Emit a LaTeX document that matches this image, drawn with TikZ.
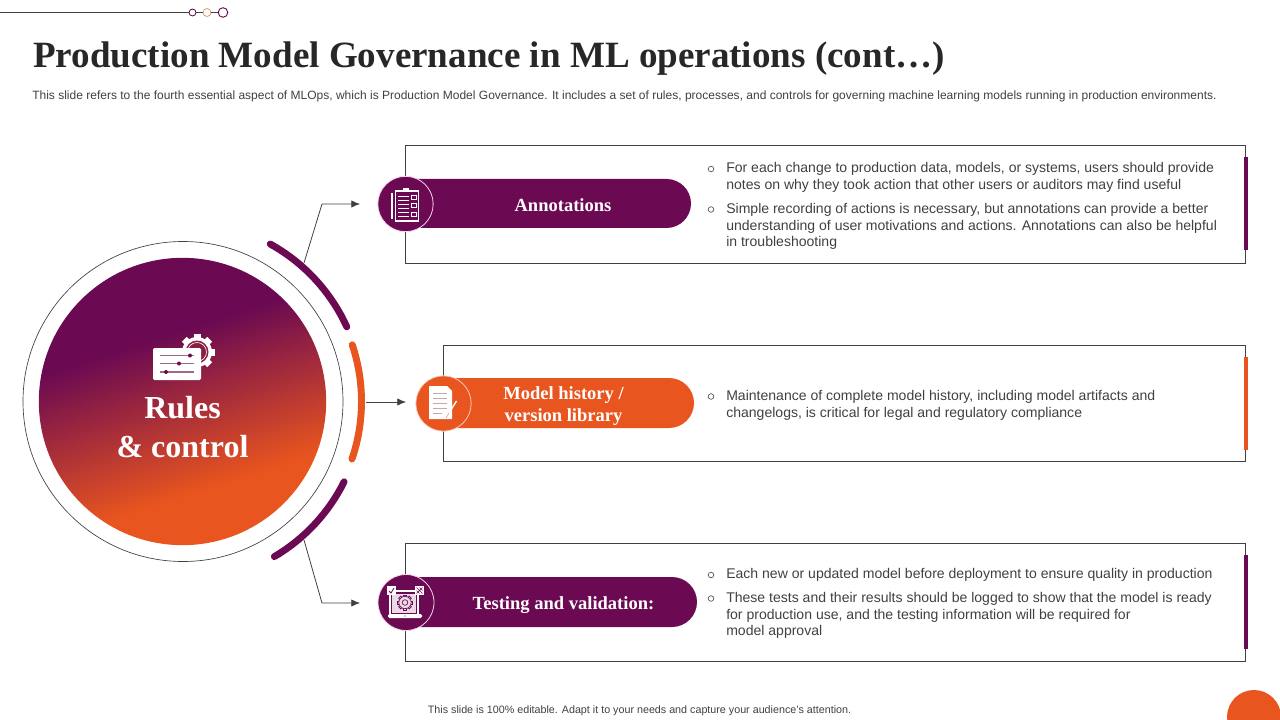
\documentclass[tikz,border=0pt]{standalone}
\usepackage{fontspec}
\setmainfont{Liberation Sans}
\newfontfamily\serifbold{Liberation Serif Bold}
\definecolor{plum}{HTML}{6B0A52}
\definecolor{flame}{HTML}{E9551E}
\definecolor{ink}{HTML}{404040}
\definecolor{ringpink}{HTML}{F3D6EA}
\definecolor{slider}{HTML}{9A6A8C}
\definecolor{docline}{HTML}{C9A9A0}
\pgfdeclareverticalshading{rulesdisc}{100bp}{color(0bp)=(flame); color(34bp)=(flame); color(61.8bp)=(plum); color(100bp)=(plum)}
\usetikzlibrary{arrows.meta}
\tikzset{
  x=0.75pt,y=-0.75pt,
  framebox/.style={draw=ink,line width=0.75pt},
  connector/.style={draw=ink,line width=0.6pt},
  arrowline/.style={connector,-{Latex[length=6.5pt,width=5.5pt]}},
  body/.style={anchor=north west,inner sep=0pt,align=left,text=ink,font=\fontsize{10.53pt}{12.55pt}\selectfont},
  pilltext/.style={text=white,align=center,inner sep=0pt,font=\serifbold\fontsize{13.9pt}{16.6pt}\selectfont},
  bulletdot/.style={circle,draw=ink,line width=0.45pt,inner sep=0pt,minimum size=4.2pt},
  arcbar/.style={line width=5.2pt,line cap=round},
  iconline/.style={draw=white,line width=0.7pt},
}
\begin{document}
\begin{tikzpicture}
\useasboundingbox (0,0) rectangle (1280,720);
% top ornament
\node[circle,draw=plum!80!black,line width=0.6pt,inner sep=0pt,minimum size=5.2pt] (o1) at (192.5,12.5) {};
\node[circle,draw=flame!50!brown!70,line width=0.6pt,inner sep=0pt,minimum size=6pt] (o2) at (207,12.5) {};
\node[circle,draw=plum,line width=0.7pt,inner sep=0pt,minimum size=7.2pt] (o3) at (223,12.5) {};
\coordinate (ostart) at (0,12.5);
\draw[connector] (ostart) -- (o1) (o1) -- (o2) (o2) -- (o3);
% title
\node[anchor=base west,inner sep=0pt,text=ink!60!black,font=\serifbold\fontsize{27.8pt}{32pt}\selectfont] (title) at (33,68) {Production Model Governance in ML operations (cont…)};
\node[anchor=base west,inner sep=0pt,text=ink,font=\fontsize{9.01pt}{10pt}\selectfont] (subtitle) at (32,99.5) {This slide refers to the fourth essential aspect of MLOps, which is Production Model Governance. It includes a set of rules, processes, and controls for governing machine learning models running in production environments.};
% central disc
\node[circle,draw=ink,line width=0.5pt,fill=white,inner sep=0pt,minimum size=240pt] (ring) at (183,401.5) {};
\node[circle,shading=rulesdisc,shading angle=18,inner sep=0pt,minimum size=215.5pt] (disc) at (182.5,401.5) {};
% arcs
\draw[arcbar,plum] plot[domain=-61:-24.5,samples=40] ({183+180*cos(\x)},{401.5+180*sin(\x)});
\draw[arcbar,flame] plot[domain=-18.5:18.8,samples=40] ({183+178.5*cos(\x)},{401.5+178.5*sin(\x)});
\draw[arcbar,plum] plot[domain=26.5:59.5,samples=40] ({183+180*cos(\x)},{401.5+180*sin(\x)});
% connectors
\coordinate (c1s) at (304,263);
\coordinate (c1m) at (322,204);
\coordinate (c1e) at (360,204);
\coordinate (c2s) at (366,402);
\coordinate (c2e) at (406,402);
\coordinate (c3s) at (304,540);
\coordinate (c3m) at (322,603);
\coordinate (c3e) at (360,603);
\draw[arrowline] (c1s) -- (c1m) -- (c1e);
\draw[arrowline] (c2s) -- (c2e);
\draw[arrowline] (c3s) -- (c3m) -- (c3e);
% gear & sliders icon
\begin{scope}[shift={(197,352)}]
  \foreach \a in {0,45,...,315} \fill[white,rotate=\a] (-3.5,-18) rectangle (3.5,-12);
  \fill[white] (0,0) circle[radius=15];
  \fill[plum!75!flame] (0,0) circle[radius=11.5];
  \draw[white,line width=0.5pt] (0,0) circle[radius=9.5];
  \fill[plum!75!flame] (0,0) circle[radius=8.5];
\end{scope}
\fill[white,rounded corners=1pt] (153,348) rectangle (201,380);
\draw[slider,line width=0.8pt] (160,355.5) -- (194,355.5) (160,363.5) -- (194,363.5) (160,372) -- (194,372);
\fill[plum] (190,355.5) circle[radius=2] (179,363.5) circle[radius=2] (166,372) circle[radius=2];
\node[text=white,align=center,inner sep=0pt,font=\serifbold\fontsize{24pt}{28.6pt}\selectfont] (rules) at (182.5,427) {Rules\\\& control};
% boxes
\path[framebox] (405.5,145.5) rectangle (1245.5,263.5);
\path[framebox] (443.5,345.5) rectangle (1245.5,461.5);
\path[framebox] (405.5,543.5) rectangle (1245,661.5);
\fill[plum] (1244,157) rectangle (1248,250);
\fill[flame] (1244,357) rectangle (1248,450);
\fill[plum] (1244,555) rectangle (1248,649);
% pills
\fill[plum] (405,179) -- (666.5,179) arc[start angle=-90,end angle=90,radius=24.5] -- (405,228) -- cycle;
\fill[flame] (443,378) -- (669,378) arc[start angle=-90,end angle=90,radius=25] -- (443,428) -- cycle;
\fill[plum] (405,577) -- (672,577) arc[start angle=-90,end angle=90,radius=25] -- (405,627) -- cycle;
\node[circle,fill=plum,draw=ringpink,line width=0.6pt,inner sep=0pt,minimum size=41.5pt] (ic1) at (405.5,204) {};
\node[circle,fill=flame,draw=flame!30!white,line width=0.6pt,inner sep=0pt,minimum size=41.5pt] (ic2) at (443.5,403.5) {};
\node[circle,fill=plum,draw=ringpink,line width=0.6pt,inner sep=0pt,minimum size=42pt] (ic3) at (406,602.5) {};
\node[pilltext] (p1) at (563,205) {Annotations};
\node[pilltext] (p2) at (563.5,406) {Model history /\\version library};
\node[pilltext] (p3) at (563.5,605) {Testing and validation:};
% clipboard icon
\draw[white,line width=1.6pt] (392,193) -- (392,219);
\draw[white,line width=0.8pt] (395.5,191) rectangle (418.5,221);
\fill[white] (403,188.5) rectangle (409,191);
\foreach \yy in {196,200,204,208,212,216} \draw[iconline,line width=0.5pt] (398,\yy) -- (409,\yy);
\foreach \yy in {197,205,214} \draw[iconline,line width=0.5pt] (411,\yy-2) rectangle (416,\yy+2);
% document icon
\fill[white] (429,386) -- (447,386) -- (452,391) -- (452,419) -- (429,419) -- cycle;
\foreach \yy in {393,398,403,408} \draw[docline,line width=0.6pt] (433,\yy) -- (447,\yy);
\draw[docline,line width=0.6pt] (433,413) -- (442,413);
\draw[white,line width=1.1pt] (447,416) -- (456.5,401);
\draw[docline,line width=0.5pt] (446,418) -- (449,413);
% laptop icon
\draw[white,line width=1pt] (390,591) rectangle (418,615);
\fill[white!85!plum] (392,594) rectangle (416,613);
\fill[white,rounded corners=1pt] (388,614) rectangle (422,618);
\fill[plum] (405,616) circle[radius=0.7];
\begin{scope}[shift={(405,602.5)}]
  \foreach \a in {0,45,...,315} \draw[plum,line width=0.5pt,rotate=\a] (-1.5,-7.5) rectangle (1.5,-5.5);
  \fill[white!85!plum] (0,0) circle[radius=6.2];
  \draw[plum,line width=0.5pt] (0,0) circle[radius=6.2] (0,0) circle[radius=2.8];
\end{scope}
\fill[white] (387,586) rectangle (396,595);
\draw[plum,line width=0.6pt] (389,591) -- (391,593) -- (394,588);
\fill[white] (415,586) rectangle (424,595);
\draw[plum,line width=0.4pt] (416.5,587.5) -- (422.5,593.5) (422.5,587.5) -- (416.5,593.5) (416.5,590.5) -- (419.5,593.5) (419.5,587.5) -- (422.5,590.5);
% bullets and text
\node[bulletdot] (b1) at (711,169) {};
\node[body] (t1) at (726,162) {For each change to production data, models, or systems, users should provide\\notes on why they took action that other users or auditors may find useful};
\node[bulletdot] (b2) at (711,209.5) {};
\node[body] (t2) at (726,203) {Simple recording of actions is necessary, but annotations can provide a better\\understanding of user motivations and actions. Annotations can also be helpful\\in troubleshooting};
\node[bulletdot] (b3) at (711,396.5) {};
\node[body] (t3) at (726,390) {Maintenance of complete model history, including model artifacts and\\changelogs, is critical for legal and regulatory compliance};
\node[bulletdot] (b4) at (711,575) {};
\node[body] (t4) at (726,568) {Each new or updated model before deployment to ensure quality in production};
\node[bulletdot] (b5) at (711,598.5) {};
\node[body] (t5) at (726,592) {These tests and their results should be logged to show that the model is ready\\for production use, and the testing information will be required for\\model approval};
% footer
\node[anchor=base,inner sep=0pt,text=ink,font=\fontsize{8.05pt}{9pt}\selectfont] (foot) at (639.5,713) {This slide is 100\% editable. Adapt it to your needs and capture your audience's attention.};
\begin{scope}
\clip (0,0) rectangle (1280,720);
\fill[flame] (1254,717) circle[radius=27];
\end{scope}
\end{tikzpicture}
\end{document}
